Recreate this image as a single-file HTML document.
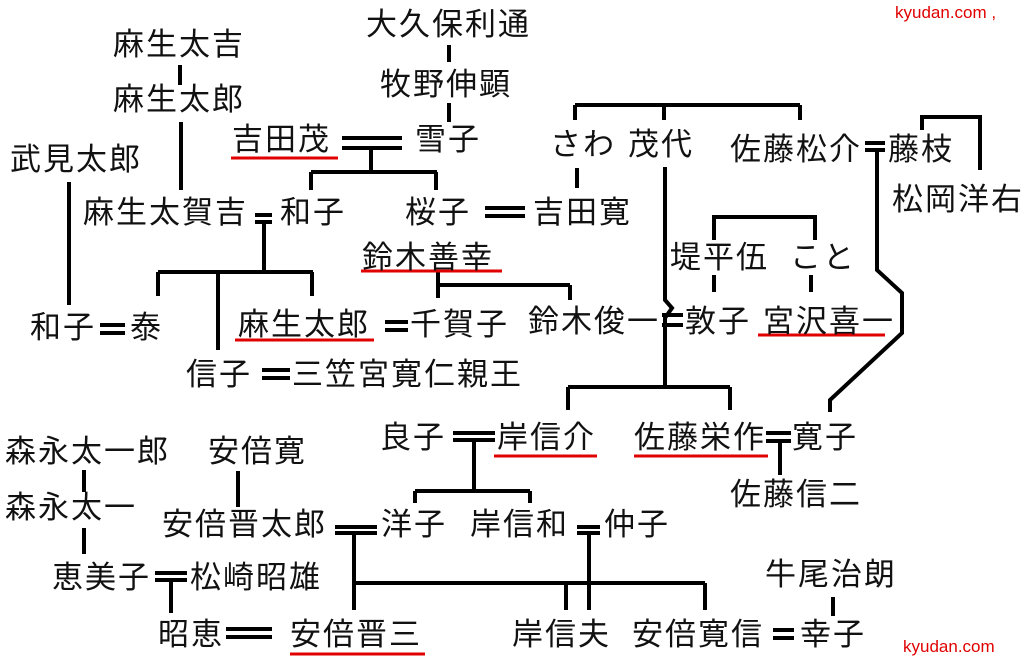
<!DOCTYPE html>
<html><head><meta charset="utf-8"><style>
body{margin:0;background:#fff;width:1029px;height:663px;overflow:hidden;position:relative;font-family:"Liberation Sans","Noto Sans CJK JP",sans-serif;}
.t{position:absolute;font-size:31px;line-height:32px;letter-spacing:2px;color:#111;white-space:nowrap;}
.k{position:absolute;font-size:17px;color:#e00000;font-family:"Liberation Sans",sans-serif;}
svg{position:absolute;left:0;top:0;}
</style></head><body>
<svg width="1029" height="663" viewBox="0 0 1029 663" fill="none" stroke="#000" stroke-width="4">
<path d="M180 65V85M181 122V190M69 182V305M449 45V62M449 103V122"/>
<path d="M342 138H402M342 148H402M371 148V172M311 172H437M311 172V190M436 172V190"/>
<path d="M255 215H272M255 222H272M264 222V272M158 272H313M158 272V296M218 272V350M312 272V296"/>
<path d="M100 325H125M100 333H125M385 322H408M385 330H408M438 272V298M438 285H570M570 285V300M262 370H290M262 378H290"/>
<path d="M575 105H800M575 105V120M664 105V120M800 105V120M577 168V188M485 208H525M485 216H525"/>
<path d="M665 167V300L672 308L665 318V387M662 315H683M662 325H683"/>
<path d="M568 387H730M568 387V410M730 387V410"/>
<path d="M865 143H885M865 150H885M877 150V270L902 293V333L830 400V412M922 130V117H980V170"/>
<path d="M714 240V217H815V240M714 275V292M811 275V292"/>
<path d="M453 433H495M453 440H495M474 440V491M415 491H530M415 491V503M530 491V503"/>
<path d="M766 433H791M766 441H791M780 441V475"/>
<path d="M84 470V492M84 528V554M238 471V507"/>
<path d="M335 527H377M335 533H377M354 533V610M354 583H705M705 583V610M566 583V610M577 527H600M577 533H600M589 533V610"/>
<path d="M155 573H187M155 580H187M171 580V613M226 629H272M226 637H272M833 597V616M773 630H794M773 638H794"/>
<path stroke="#e00000" stroke-width="3" d="M231 158H338M361 271H502M235 340H374M758 335H885M494 456H597M634 456H768M290 654H425"/>
</svg>
<div class="t" style="left:366px;top:9px">大久保利通</div>
<div class="t" style="left:380px;top:69px">牧野伸顕</div>
<div class="t" style="left:113px;top:29px">麻生太吉</div>
<div class="t" style="left:113px;top:84px">麻生太郎</div>
<div class="t" style="left:10px;top:144px">武見太郎</div>
<div class="t" style="left:232px;top:124px">吉田茂</div>
<div class="t" style="left:415px;top:124px">雪子</div>
<div class="t" style="left:550px;top:129px">さわ</div>
<div class="t" style="left:628px;top:129px">茂代</div>
<div class="t" style="left:730px;top:134px">佐藤松介</div>
<div class="t" style="left:888px;top:134px">藤枝</div>
<div class="t" style="left:892px;top:184px">松岡洋右</div>
<div class="t" style="left:83px;top:197px">麻生太賀吉</div>
<div class="t" style="left:280px;top:197px">和子</div>
<div class="t" style="left:405px;top:197px">桜子</div>
<div class="t" style="left:533px;top:197px">吉田寛</div>
<div class="t" style="left:362px;top:242px">鈴木善幸</div>
<div class="t" style="left:670px;top:242px">堤平伍</div>
<div class="t" style="left:790px;top:242px">こと</div>
<div class="t" style="left:30px;top:312px">和子</div>
<div class="t" style="left:130px;top:312px">泰</div>
<div class="t" style="left:238px;top:309px">麻生太郎</div>
<div class="t" style="left:410px;top:309px">千賀子</div>
<div class="t" style="left:528px;top:306px">鈴木俊一</div>
<div class="t" style="left:685px;top:306px">敦子</div>
<div class="t" style="left:763px;top:306px">宮沢喜一</div>
<div class="t" style="left:186px;top:359px">信子</div>
<div class="t" style="left:292px;top:359px">三笠宮寛仁親王</div>
<div class="t" style="left:380px;top:422px">良子</div>
<div class="t" style="left:497px;top:422px">岸信介</div>
<div class="t" style="left:634px;top:422px">佐藤栄作</div>
<div class="t" style="left:792px;top:422px">寛子</div>
<div class="t" style="left:730px;top:479px">佐藤信二</div>
<div class="t" style="left:5px;top:436px">森永太一郎</div>
<div class="t" style="left:208px;top:436px">安倍寛</div>
<div class="t" style="left:5px;top:492px">森永太一</div>
<div class="t" style="left:162px;top:509px">安倍晋太郎</div>
<div class="t" style="left:381px;top:509px">洋子</div>
<div class="t" style="left:470px;top:509px">岸信和</div>
<div class="t" style="left:604px;top:509px">仲子</div>
<div class="t" style="left:52px;top:562px">恵美子</div>
<div class="t" style="left:190px;top:562px">松崎昭雄</div>
<div class="t" style="left:765px;top:559px">牛尾治朗</div>
<div class="t" style="left:158px;top:619px">昭恵</div>
<div class="t" style="left:290px;top:619px">安倍晋三</div>
<div class="t" style="left:512px;top:619px">岸信夫</div>
<div class="t" style="left:632px;top:619px">安倍寛信</div>
<div class="t" style="left:800px;top:619px">幸子</div>
<div class="k" style="left:895px;top:3px">kyudan.com ,</div>
<div class="k" style="left:903px;top:637px">kyudan.com</div>
</body></html>
